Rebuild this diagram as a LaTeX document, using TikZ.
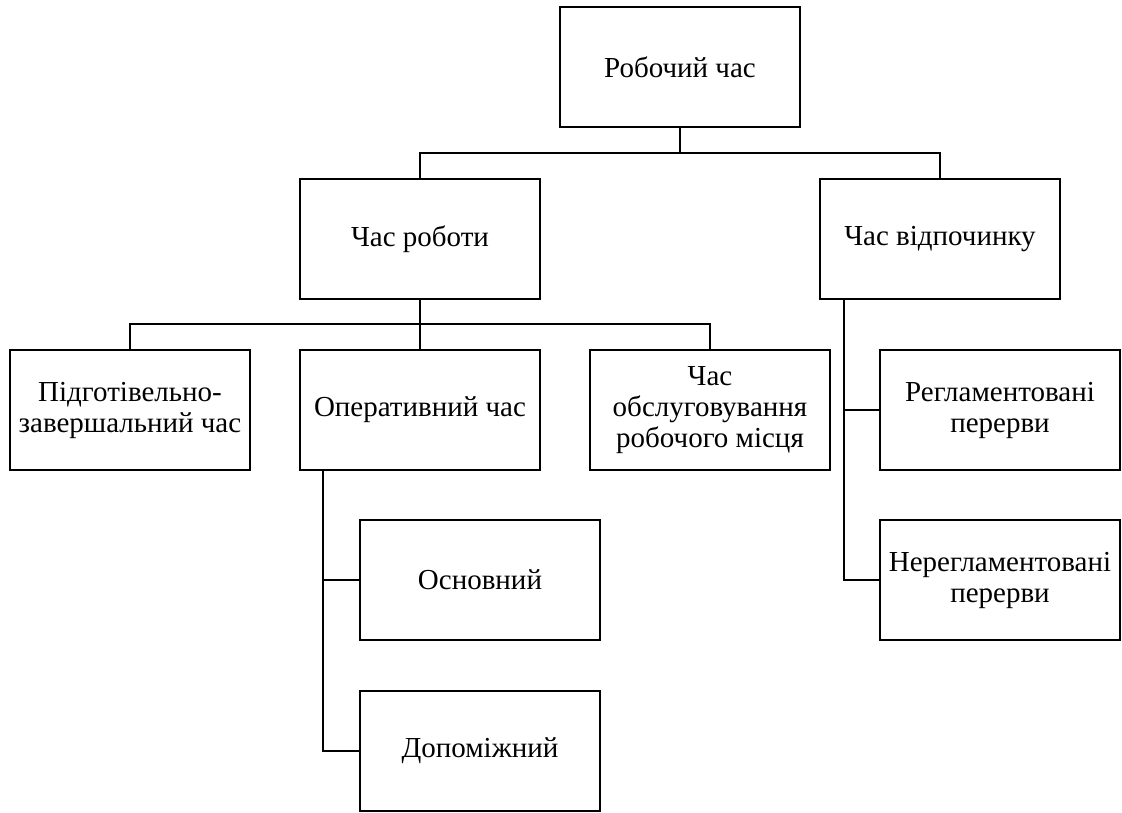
\documentclass[tikz,border=0pt]{standalone}
\usepackage{fontspec}
\setmainfont{Liberation Serif}
\usetikzlibrary{calc}
\begin{document}
\begin{tikzpicture}[x=1pt,y=-1pt,
  box/.style={draw, line width=2.2pt, minimum width=240pt, minimum height=120pt,
    align=center, inner sep=0pt, font=\fontsize{29}{31}\selectfont},
  conn/.style={line width=2.2pt}]
\useasboundingbox (0,0) rectangle (1122,812);
\fill[white] (0,0) rectangle (1122,812);
\node[box] (root)  at (680,67)  {Робочий час};
\node[box] (work)  at (420,239) {Час роботи};
\node[box] (rest)  at (940,239) {Час відпочинку};
\node[box] (prep)  at (130,410) {Підготівельно-\\завершальний час};
\node[box] (oper)  at (420,410) {Оперативний час};
\node[box] (serv)  at (710,410) {Час\\обслуговування\\робочого місця};
\node[box] (reg)   at (1000,410) {Регламентовані\\перерви};
\node[box] (main)  at (480,580) {Основний};
\node[box] (aux)   at (480,751) {Допоміжний};
\node[box] (unreg) at (1000,580) {Нерегламентовані\\перерви};
\coordinate (j1) at (680,153);
\coordinate (j2) at (420,324);
\coordinate (ob) at ($(oper.south west)+(24,0)$);
\coordinate (rb) at ($(rest.south west)+(25,0)$);
\draw[conn] (root.south) -- (j1);
\draw[conn] (work.north) |- (j1) -| (rest.north);
\draw[conn] (work.south) -- (j2) -- (oper.north);
\draw[conn] (prep.north) |- (j2) -| (serv.north);
\draw[conn] (ob) |- (main.west);
\draw[conn] (ob) |- (aux.west);
\draw[conn] (rb) |- (reg.west);
\draw[conn] (rb) |- (unreg.west);
\end{tikzpicture}
\end{document}
